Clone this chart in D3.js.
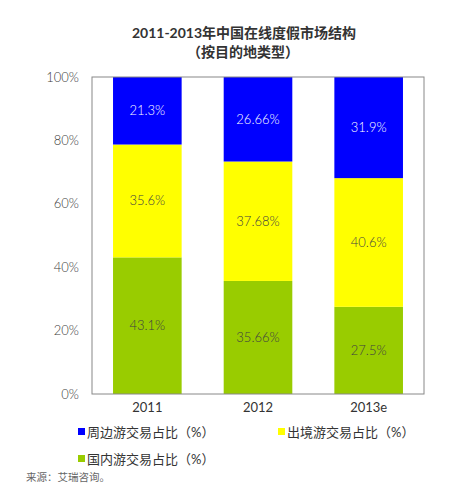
<!DOCTYPE html>
<html>
<head>
<meta charset="utf-8">
<script src="https://cdn.jsdelivr.net/npm/d3@7"></script>
<style>
  body { margin: 0; background: #fff; }
  text { font-family: Lato, "Noto Sans CJK SC", sans-serif; }
</style>
</head>
<body>
<div id="chart"></div>
<script>
// data
const years = ["2011", "2012", "2013e"];
const domestic = [43.1, 35.66, 27.5];   // 国内游
const outbound = [35.6, 37.68, 40.6];   // 出境游
const nearby = [21.3, 26.66, 31.9];     // 周边游
const yTicks = [0, 20, 40, 60, 80, 100];

const seriesNames = ["国内游交易占比（%）", "出境游交易占比（%）", "周边游交易占比（%）"];
const seriesColors = ["#99cc00", "#ffff00", "#0000ff"];
const labelColors = ["#404040", "#404040", "#ffffff"];

const width = 462, height = 494;
const margin = {top: 77, right: 38, bottom: 100, left: 92};
const plotW = width - margin.left - margin.right;
const plotH = height - margin.top - margin.bottom;

const svg = d3.select("#chart").append("svg")
    .attr("width", width)
    .attr("height", height);

// title
svg.append("text")
    .attr("x", 244).attr("y", 38)
    .attr("text-anchor", "middle")
    .attr("font-size", 14).attr("font-weight", "bold")
    .attr("fill", "#333")
    .text("2011-2013年中国在线度假市场结构");
svg.append("text")
    .attr("x", 243).attr("y", 57)
    .attr("text-anchor", "middle")
    .attr("font-size", 14).attr("font-weight", "bold")
    .attr("fill", "#333")
    .text("（按目的地类型）");

const plot = svg.append("g")
    .attr("transform", `translate(${margin.left},${margin.top})`);

const x = d3.scaleBand().domain(years).range([0, plotW]).paddingInner(0.38).paddingOuter(0.19);
const y = d3.scaleLinear().domain([0, 100]).range([plotH, 0]);

// stack the three series
const rows = years.map((yr, i) => ({year: yr, s0: domestic[i], s1: outbound[i], s2: nearby[i]}));
const stacked = d3.stack().keys(["s0", "s1", "s2"])(rows);

stacked.forEach((layer, k) => {
    const g = plot.append("g");
    g.selectAll("rect")
        .data(layer)
        .join("rect")
        .attr("x", d => x(d.data.year))
        .attr("y", d => y(d[1]))
        .attr("width", x.bandwidth())
        .attr("height", d => y(d[0]) - y(d[1]))
        .attr("fill", seriesColors[k]);

    g.selectAll("text")
        .data(layer)
        .join("text")
        .attr("x", d => x(d.data.year) + x.bandwidth() / 2)
        .attr("y", d => (y(d[0]) + y(d[1])) / 2)
        .attr("dy", "0.35em")
        .attr("text-anchor", "middle")
        .attr("font-size", 13)
        .attr("font-weight", 300)
        .attr("fill", labelColors[k])
        .text(d => (d[1] - d[0]).toFixed(2).replace(/\.?0+$/, "") + "%");
});

// frame
plot.append("rect")
    .attr("width", plotW).attr("height", plotH)
    .attr("fill", "none")
    .attr("stroke", "#888");

// y axis labels
const yAxis = plot.append("g")
    .call(d3.axisLeft(y).tickValues(yTicks).tickSize(0).tickPadding(13).tickFormat(d => d + "%"));
yAxis.select(".domain").remove();
yAxis.selectAll("text").attr("font-size", 13).attr("font-weight", 300).attr("fill", "#404040")
    .style("font-family", "Lato, sans-serif");

// x axis labels
const xAxis = plot.append("g")
    .attr("transform", `translate(0,${plotH})`)
    .call(d3.axisBottom(x).tickSize(0).tickPadding(9));
xAxis.select(".domain").remove();
xAxis.selectAll("text").attr("font-size", 13).attr("fill", "#333")
    .style("font-family", "Lato, sans-serif");

// legend
const legendItems = [
    {name: seriesNames[2], color: seriesColors[2], x: 78, y: 432},
    {name: seriesNames[1], color: seriesColors[1], x: 278, y: 432},
    {name: seriesNames[0], color: seriesColors[0], x: 78, y: 459}
];
const legend = svg.append("g");
legend.selectAll("rect")
    .data(legendItems)
    .join("rect")
    .attr("x", d => d.x).attr("y", d => d.y - 4)
    .attr("width", 7).attr("height", 7)
    .attr("fill", d => d.color);
legend.selectAll("text")
    .data(legendItems)
    .join("text")
    .attr("x", d => d.x + 9).attr("y", d => d.y)
    .attr("dy", "0.35em")
    .attr("font-size", 13)
    .attr("fill", "#333")
    .text(d => d.name);

// source
svg.append("text")
    .attr("x", 26).attr("y", 477)
    .attr("dy", "0.35em")
    .attr("font-size", 10.5)
    .attr("fill", "#666")
    .text("来源：艾瑞咨询。");
</script>
</body>
</html>
